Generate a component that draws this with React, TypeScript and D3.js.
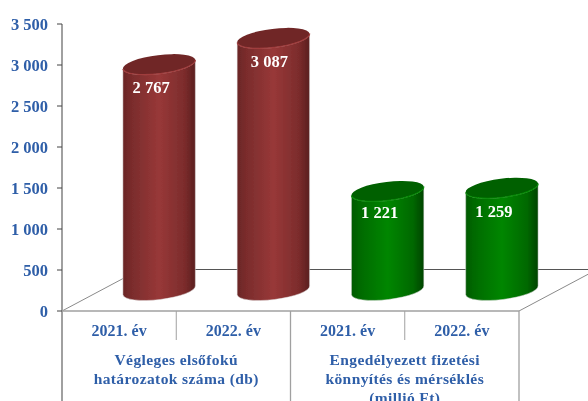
import React from "react";
import * as d3 from "d3";

const periods = ["2021. év", "2022. év", "2021. év", "2022. év"];
const values = [2767, 3087, 1221, 1259];
const valueLabels = ["2 767", "3 087", "1 221", "1 259"];
const palettes = ["red", "red", "green", "green"];
const yTicks = [0, 500, 1000, 1500, 2000, 2500, 3000, 3500];
const groupLabels = [
  ["Végleges elsőfokú", "határozatok száma (db)"],
  ["Engedélyezett fizetési", "könnyítés és mérséklés", "(millió Ft)"],
];

const blue = "#2f5ea8";
const font = "'Liberation Serif', 'Times New Roman', serif";
const left = 62, right = 519, base = 311, top = 24;
const depthX = 78, depthY = 41.5;
const y = d3.scaleLinear().domain([0, 3500]).range([base, top]);
const x = d3.scaleBand<number>().domain(d3.range(4)).range([left, right]);
const fmt = (v: number) => d3.format(",")(v).replace(/,/g, " ");

const rx = 36.5, ry = 9.3, tilt = -7;
const dxT = rx * Math.cos((tilt * Math.PI) / 180);
const dyT = rx * Math.sin((tilt * Math.PI) / 180);

export default function App() {
  return (
    <svg width={588} height={401} style={{ position: "fixed", left: 0, top: 0, background: "#fff" }}>
      <defs>
        <filter id="soft" x="-5%" y="-5%" width="110%" height="110%">
          <feGaussianBlur stdDeviation="0.5" />
        </filter>
        <linearGradient id="red" x1="0" x2="1" y1="0" y2="0">
          <stop offset="0" stopColor="#6a2626" />
          <stop offset="0.12" stopColor="#7a2c2c" />
          <stop offset="0.5" stopColor="#983838" />
          <stop offset="0.85" stopColor="#7c2c2c" />
          <stop offset="1" stopColor="#5a1f1f" />
        </linearGradient>
        <linearGradient id="green" x1="0" x2="1" y1="0" y2="0">
          <stop offset="0" stopColor="#045a04" />
          <stop offset="0.12" stopColor="#056a05" />
          <stop offset="0.5" stopColor="#058605" />
          <stop offset="0.85" stopColor="#056805" />
          <stop offset="1" stopColor="#034403" />
        </linearGradient>
      </defs>
      <g filter="url(#soft)">
        <line x1={left} y1={base} x2={left + depthX} y2={base - depthY} stroke="#8a8a8a" />
        <line x1={right} y1={base} x2={right + depthX} y2={base - depthY} stroke="#8a8a8a" />
        <line x1={left + depthX} y1={base - depthY} x2={right + depthX} y2={base - depthY} stroke="#555" />
        <line x1={left} y1={base} x2={right} y2={base} stroke="#a0a0a0" strokeWidth={1.4} />
        <line x1={left} y1={top} x2={left} y2={401} stroke="#a0a0a0" strokeWidth={2} />
        {yTicks.map((t) => (
          <g key={t}>
            <line x1={left - 5} x2={left} y1={y(t)} y2={y(t)} stroke="#444" />
            <text x={48} y={y(t) + 5.5} textAnchor="end" fontFamily={font} fontWeight="bold" fontSize={16.5} fill={blue}>
              {fmt(t)}
            </text>
          </g>
        ))}
        {[1, 3].map((i) => (
          <line key={i} x1={x(i)!} x2={x(i)!} y1={base} y2={340} stroke="#a0a0a0" />
        ))}
        {[2, 4].map((i) => {
          const px = i === 4 ? right : x(i)!;
          return <line key={i} x1={px} x2={px} y1={base} y2={401} stroke="#a0a0a0" strokeWidth={1.3} />;
        })}
        {values.map((v, i) => {
          const cx = x(i)! + x.bandwidth() / 2 + depthX / 2 + 1;
          const cy = y(v) - depthY / 2 + 1;
          const by = y(0) - depthY / 2;
          const pal = palettes[i];
          const body = `M${cx - dxT},${cy - dyT} L${cx - dxT},${by - dyT} A${rx},${ry} ${tilt} 0 0 ${cx + dxT},${by + dyT} L${cx + dxT},${cy + dyT} A${rx},${ry} ${tilt} 0 1 ${cx - dxT},${cy - dyT} Z`;
          const rim = `M${cx - dxT},${cy - dyT} A${rx},${ry} ${tilt} 0 0 ${cx + dxT},${cy + dyT}`;
          return (
            <g key={i}>
              <path d={body} fill={`url(#${pal})`} stroke="#e2e2e2" strokeWidth={0.5} />
              <ellipse
                cx={cx}
                cy={cy}
                rx={rx}
                ry={ry}
                transform={`rotate(${tilt} ${cx} ${cy})`}
                fill={pal === "red" ? "#702828" : "#056005"}
              />
              <path d={rim} fill="none" stroke={pal === "red" ? "#a03c3c" : "#078a07"} strokeWidth={1.2} />
              <text x={cx - (i === 1 ? 4 : 8)} y={cy + (i === 2 ? 27 : 29)} textAnchor="middle" fontFamily={font} fontWeight="bold" fontSize={16.5} fill="#fff">
                {valueLabels[i]}
              </text>
            </g>
          );
        })}
        {periods.map((p, i) => (
          <text key={i} x={x(i)! + x.bandwidth() / 2} y={336} textAnchor="middle" fontFamily={font} fontWeight="bold" fontSize={16} fill={blue}>
            {p}
          </text>
        ))}
        {groupLabels.map((lines, g) =>
          lines.map((l, k) => (
            <text key={k} x={x(g * 2 + 1)!} y={365 + k * 19} textAnchor="middle" fontFamily={font} fontWeight="bold" fontSize={15.5} letterSpacing={0.4} fill={blue}>
              {l}
            </text>
          ))
        )}
      </g>
    </svg>
  );
}
